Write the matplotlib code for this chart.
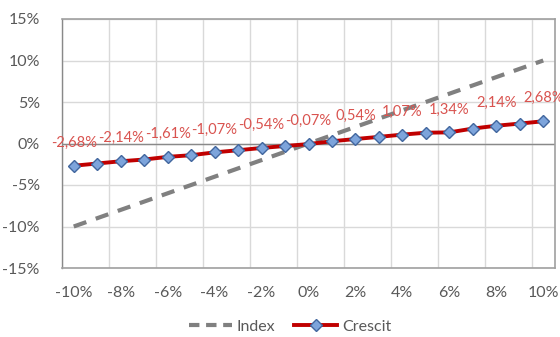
import matplotlib
matplotlib.use("Agg")
import matplotlib.pyplot as plt
from matplotlib.lines import Line2D
import numpy as np

# Category axis: -10% ... +10% in 1% steps
categories = [-10, -9, -8, -7, -6, -5, -4, -3, -2, -1, 0,
              1, 2, 3, 4, 5, 6, 7, 8, 9, 10]
index_values = [-10, -9, -8, -7, -6, -5, -4, -3, -2, -1, 0,
                1, 2, 3, 4, 5, 6, 7, 8, 9, 10]
crescit_values = [-2.68, -2.41, -2.14, -1.93, -1.61, -1.41, -1.07, -0.81, -0.54, -0.30, -0.07,
                  0.27, 0.54, 0.80, 1.07, 1.30, 1.34, 1.80, 2.14, 2.40, 2.68]
y_ticks = [-15, -10, -5, 0, 5, 10, 15]

plt.rcParams['font.family'] = ['Lato', 'DejaVu Sans']

fig = plt.figure(figsize=(5.6, 3.37), dpi=100)
ax = fig.add_axes([62 / 560, 1 - 268 / 337, (555 - 62) / 560, (268 - 19) / 337])

pos = np.arange(len(categories))
text_col = '#595959'
grid_col = '#D9D9D9'

ax.set_xlim(-0.5, len(categories) - 0.5)
ax.set_ylim(-15, 15)

# gridlines
for v in y_ticks:
    ax.axhline(v, color=grid_col, lw=1.0, zorder=0)
for b in np.arange(-0.5, len(categories) - 0.5, 2):
    ax.axvline(b, color=grid_col, lw=1.0, zorder=0)
ax.axhline(0, color='#898989', lw=1.0, zorder=1)

for s in ['top', 'right', 'bottom']:
    ax.spines[s].set_color('#A0A0A0')
    ax.spines[s].set_linewidth(1.2)
ax.spines['left'].set_color('#898989')
ax.spines['left'].set_linewidth(1.0)

ax.plot(pos, index_values, color='#808080', lw=3.0, dashes=(3.2, 2.4),
        solid_capstyle='butt', dash_capstyle='butt', zorder=2)
ax.plot(pos, crescit_values, color='#C00000', lw=2.8, zorder=3,
        marker='D', markersize=6.5, markerfacecolor='#7DA4DB',
        markeredgecolor='#41669E', markeredgewidth=1.0)

for i in range(0, len(categories), 2):
    v = crescit_values[i]
    ax.annotate(f"{v:.2f}%".replace('.', ','), (pos[i], v), xytext=(0, 16.5),
                textcoords='offset points', ha='center', va='center',
                color='#D9534F', fontsize=10.6, zorder=4, annotation_clip=False)

ax.set_yticks(y_ticks)
ax.set_yticklabels([f"{v}%" for v in y_ticks], color=text_col, fontsize=11.5)
ax.set_xticks(pos[::2])
ax.set_xticklabels([f"{c}%" for c in categories[::2]], color=text_col, fontsize=11.5)
ax.tick_params(axis='both', length=0)
ax.tick_params(axis='y', pad=16)
ax.tick_params(axis='x', pad=13)

handles = [
    Line2D([], [], color='#808080', lw=3.0, dashes=(2.5, 1.6)),
    Line2D([], [], color='#C00000', lw=2.8, marker='D', markersize=6.5,
           markerfacecolor='#7DA4DB', markeredgecolor='#41669E', markeredgewidth=1.0),
]
fig.legend(handles, ['Index', 'Crescit'], loc='center', bbox_to_anchor=(0.518, 0.03),
           ncol=2, frameon=False, fontsize=11.5, labelcolor=text_col,
           handlelength=2.7, handletextpad=0.3, columnspacing=1.2)

fig.savefig('out.png', dpi=100)
